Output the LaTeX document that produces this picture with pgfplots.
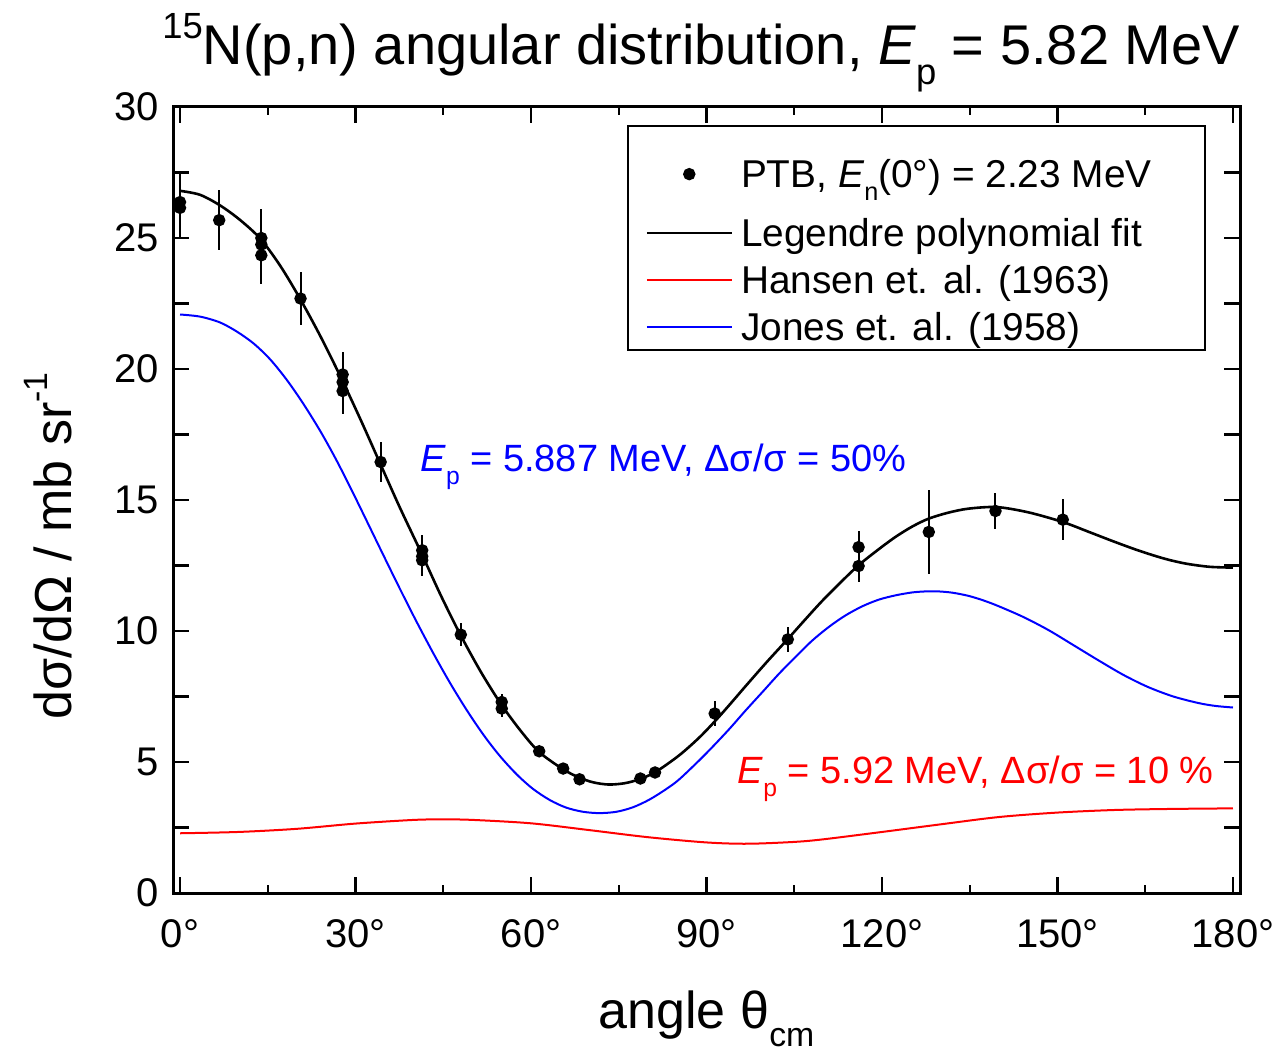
\documentclass[border=0pt]{standalone}
\usepackage{pgfplots}
\pgfplotsset{compat=1.18}
\usepackage{fontspec}
\setmainfont{Liberation Sans}
\newcommand{\sub}[1]{\raisebox{-0.35em}{\scalebox{0.65}{#1}}}
\newcommand{\super}[1]{\raisebox{0.47em}{\scalebox{0.65}{#1}}}
\definecolor{oblue}{RGB}{0,0,255}
\definecolor{ored}{RGB}{255,0,0}
\begin{document}
\begin{tikzpicture}
\begin{axis}[
  scale only axis, width=266.75pt, height=196.5pt,
  xmin=-1.2, xmax=181.2, ymin=0, ymax=30,
  axis line style={line width=0.75pt},
  xtick={0,30,...,180}, xticklabels={0°,30°,60°,90°,120°,150°,180°},
  minor xtick={15,45,...,165},
  ytick={0,5,...,30}, yticklabels={0,5,10,15,20,25,30},
  extra y ticks={2.5,7.5,...,27.5}, extra y tick labels={},
  tick align=inside, major tick length=4pt, minor tick length=2pt,
  tick style={line width=0.6pt, black},
  ticklabel style={font=\fontsize{10}{12}\selectfont},
  xticklabel style={yshift=-3pt},
  legend image code/.code={\draw[mark repeat=2,mark phase=2,#1] plot coordinates {(0pt,3.3pt) (10.625pt,3.3pt) (21.25pt,3.3pt)};},
  legend style={at={(axis cs:175.4,29.3)}, anchor=north east, draw=black, line width=0.5pt, fill=white,
    inner xsep=4.25pt, inner ysep=0.5pt, column sep=0.5pt, row sep=0pt,
    cells={anchor=base west},
    nodes={inner xsep=1.5pt, inner ysep=0pt, text depth=, text height=},
    font=\fontsize{9.7}{11}\selectfont},
]
\coordinate (SW) at (rel axis cs:0,0);
\coordinate (S) at (rel axis cs:0.5,0);
\coordinate (N) at (rel axis cs:0.495,1);

% PTB data
\addplot[black, only marks, mark=*, mark size=1.3pt, line width=0.5pt,
  error bars/.cd, y dir=both, y explicit, error mark=none,
  error bar style={line width=0.5pt, black}]
  table[x=x, y=y, y error=e] {
x y e
0 26.37 1.2
0 26.15 1.2
6.7 25.68 1.15
13.9 25.0 1.1
13.9 24.75 1.1
13.9 24.34 1.1
20.6 22.69 1.0
27.8 19.79 0.86
27.8 19.5 0.86
27.8 19.16 0.86
34.3 16.45 0.75
41.4 13.08 0.6
41.4 12.85 0.6
41.4 12.7 0.6
48.0 9.86 0.45
55.0 7.29 0.32
55.0 7.04 0.32
61.4 5.41 0.2
65.5 4.75 0.15
68.3 4.34 0.12
78.7 4.37 0.12
81.2 4.6 0.15
91.4 6.85 0.49
103.9 9.68 0.47
116.0 13.2 0.6
116.0 12.48 0.6
128.0 13.78 1.6
139.4 14.58 0.67
150.9 14.25 0.77
};
\addlegendentry{\makebox[110.25pt][l]{\rule[-6.75pt]{0pt}{21.5pt}PTB, \textit{E}\sub{n}(0°) = 2.23 MeV}}

% Legendre fit
\addplot[black, line width=0.65pt, smooth, no marks] table {
0 26.8
3.4 26.65
6.8 26.25
10.2 25.7
13.7 24.98
17.1 23.95
20.5 22.69
24.0 21.25
27.6 19.63
30.9 18.05
34.1 16.45
37.5 14.75
41.2 13.0
44.6 11.35
47.9 9.87
51.4 8.45
54.9 7.2
58.2 6.2
61.4 5.38
65.5 4.72
68.3 4.4
70.7 4.22
73.3 4.14
76.0 4.19
78.5 4.34
81.3 4.62
85.3 5.25
88.7 5.92
91.5 6.57
94.0 7.2
96.7 7.9
100.2 8.79
103.8 9.67
106.8 10.42
109.7 11.13
112.9 11.85
116.0 12.51
119.2 13.08
122.3 13.59
125.2 13.99
128.0 14.29
131.4 14.52
134.8 14.67
139.6 14.73
145.0 14.53
150.9 14.16
155.5 13.77
159.8 13.4
164.0 13.06
168.3 12.76
172.0 12.57
176.0 12.45
180 12.42
};
\addlegendentry{\rule[-3.75pt]{0pt}{11.75pt}Legendre polynomial fit}

% Hansen (red)
\addplot[ored, line width=0.5pt, smooth, no marks] table {
0 2.28
10 2.33
20 2.45
30 2.65
40 2.79
45 2.81
50 2.79
60 2.66
70 2.4
80 2.13
90 1.93
97 1.88
105 1.95
110 2.05
120 2.33
130 2.62
140 2.9
150 3.07
160 3.17
170 3.21
180 3.23
};
\addlegendentry{\rule[-3.75pt]{0pt}{11.75pt}Hansen et. al. (1963)}

% Jones (blue)
\addplot[oblue, line width=0.5pt, smooth, no marks] table {
0 22.08
3.4 22.0
6.8 21.78
9.7 21.43
12.6 20.97
15.4 20.37
18.2 19.6
21.0 18.7
23.9 17.66
26.5 16.62
29.0 15.53
31.7 14.3
34.4 13.06
37.5 11.65
40.4 10.37
43.3 9.15
46.1 8.04
48.9 7.02
51.8 6.06
54.6 5.25
57.5 4.54
60.3 3.98
63.2 3.55
66.0 3.26
68.9 3.1
71.7 3.05
74.6 3.1
77.4 3.27
80.2 3.56
83.0 3.95
85.3 4.33
88.7 5.05
91.0 5.57
93.9 6.26
96.7 6.97
99.6 7.68
102.4 8.37
105.3 9.03
108.1 9.64
111.0 10.17
113.8 10.6
116.7 10.95
119.5 11.2
122.3 11.36
125.1 11.47
127.4 11.51
129.7 11.51
132.1 11.46
134.8 11.34
137.3 11.17
139.9 10.95
144.2 10.53
148.5 10.03
152.8 9.45
157.0 8.88
161.3 8.32
165.5 7.86
169.8 7.5
174.1 7.25
177.0 7.14
180 7.08
};
\addlegendentry{\rule[-1.75pt]{0pt}{9.75pt}Jones et. al. (1958)}

\node[anchor=base west, inner sep=0pt, text=oblue, font=\fontsize{9.5}{11}\selectfont]
  at (axis cs:40.95,16.1) {\textit{E}\sub{p} = 5.887 MeV, Δσ/σ = 50\%};
\node[anchor=base west, inner sep=0pt, text=ored, font=\fontsize{9.5}{11}\selectfont]
  at (axis cs:95.2,4.19) {\textit{E}\sub{p} = 5.92 MeV, Δσ/σ = 10 \%};
\end{axis}

\node[anchor=base, inner sep=0pt, font=\fontsize{14}{16}\selectfont]
  at ([yshift=10.5pt]N) {\super{15}N(p,n) angular distribution, \textit{E}\sub{p} = 5.82 MeV};
\node[anchor=base, inner sep=0pt, font=\fontsize{13}{15}\selectfont]
  at ([yshift=-33.75pt]S) {angle θ\sub{cm}};
\node[rotate=90, anchor=base west, inner sep=0pt, font=\fontsize{13}{15}\selectfont]
  at ([xshift=-25.25pt,yshift=43.25pt]SW) {dσ/dΩ / mb sr\super{-1}};

\pgfresetboundingbox
\path ([xshift=-43.25pt,yshift=-38.75pt]SW) rectangle ++(320.25pt,262pt);
\end{tikzpicture}
\end{document}
